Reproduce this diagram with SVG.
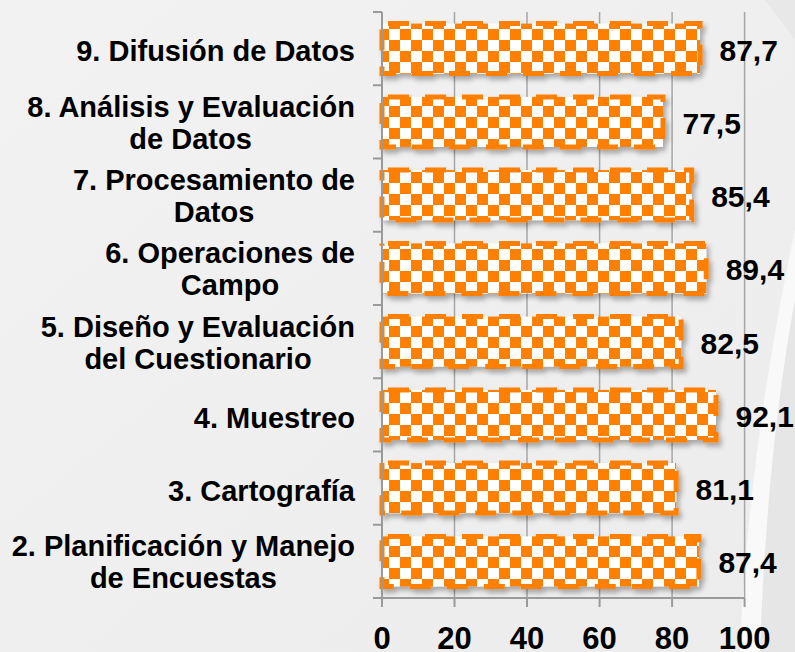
<svg xmlns="http://www.w3.org/2000/svg" width="795" height="652" viewBox="0 0 795 652">
<defs>
<pattern id="chk" patternUnits="userSpaceOnUse" x="4" y="7" width="22" height="22">
<rect width="22" height="22" fill="#ffffff"/>
<rect x="0" y="0" width="11" height="11" fill="#ff8000"/>
<rect x="11" y="11" width="11" height="11" fill="#ff8000"/>
</pattern>
<filter id="sh" x="-5%" y="-30%" width="115%" height="170%">
<feDropShadow dx="3" dy="4" stdDeviation="2.5" flood-color="#000" flood-opacity="0.3"/>
</filter>
<linearGradient id="bg" x1="0" y1="0" x2="1" y2="1">
<stop offset="0" stop-color="#f2f2f2"/>
<stop offset="1" stop-color="#ececec"/>
</linearGradient>
</defs>
<style>
.lbl{font-family:"Liberation Sans",Arial,sans-serif;font-weight:bold;font-size:29px;fill:#000}
.val{font-family:"Liberation Sans",Arial,sans-serif;font-weight:bold;font-size:30px;fill:#000}
.ax{font-family:"Liberation Sans",Arial,sans-serif;font-weight:bold;font-size:31px;fill:#000;text-anchor:middle}
.grid{stroke:#a6a6a6;stroke-width:1.5}
.axis{stroke:#9a9a9a;stroke-width:2;fill:none}
.bar{fill:url(#chk);stroke:#ff8000;stroke-width:5;stroke-dasharray:21 16;stroke-dashoffset:-6}
</style>
<rect width="795" height="652" fill="url(#bg)"/>
<path d="M795,250 C770,380 755,520 752,652 L795,652 Z" fill="#e6e6e6"/>
<path d="M795,230 C765,370 745,520 740,652 L760,652 C764,520 778,390 795,300 Z" fill="#f9f9f9"/>
<path d="M765,0 L795,0 L795,40 Z" fill="#e8e8e8"/>

<g id="grid">
<line class="grid" x1="454.5" y1="12" x2="454.5" y2="598"/>
<line class="grid" x1="527" y1="12" x2="527" y2="598"/>
<line class="grid" x1="599.6" y1="12" x2="599.6" y2="598"/>
<line class="grid" x1="672.1" y1="12" x2="672.1" y2="598"/>
<line class="grid" x1="744.6" y1="12" x2="744.6" y2="598"/>
</g>

<g id="bar-9" filter="url(#sh)"><rect class="bar" x="382" y="23.6" width="318" height="50"/></g>
<g id="bar-8" filter="url(#sh)"><rect class="bar" x="382" y="96.9" width="281" height="50"/></g>
<g id="bar-7" filter="url(#sh)"><rect class="bar" x="382" y="170.1" width="309.7" height="50"/></g>
<g id="bar-6" filter="url(#sh)"><rect class="bar" x="382" y="243.4" width="324.2" height="50"/></g>
<g id="bar-5" filter="url(#sh)"><rect class="bar" x="382" y="316.6" width="299.1" height="50"/></g>
<g id="bar-4" filter="url(#sh)"><rect class="bar" x="382" y="389.9" width="334" height="50"/></g>
<g id="bar-3" filter="url(#sh)"><rect class="bar" x="382" y="463.1" width="294.1" height="50"/></g>
<g id="bar-2" filter="url(#sh)"><rect class="bar" x="382" y="536.4" width="316.9" height="50"/></g>

<g id="axes">
<line class="axis" x1="382" y1="12" x2="382" y2="607"/>
<line class="axis" x1="374" y1="598" x2="744.6" y2="598"/>
<path class="axis" d="M373,12H382M373,85.25H382M373,158.5H382M373,231.75H382M373,305H382M373,378.25H382M373,451.5H382M373,524.75H382M373,598H382"/>
<path class="axis" d="M454.5,598V607M527,598V607M599.6,598V607M672.1,598V607M744.6,598V607"/>
</g>

<g id="labels">
<text class="lbl" x="355" y="60.5" text-anchor="end">9. Difusión de Datos</text>
<text class="lbl" x="355" y="117" text-anchor="end">8. Análisis y Evaluación</text>
<text class="lbl" x="190.6" y="149" text-anchor="middle">de Datos</text>
<text class="lbl" x="355" y="190" text-anchor="end">7. Procesamiento de</text>
<text class="lbl" x="214" y="222" text-anchor="middle">Datos</text>
<text class="lbl" x="355" y="263.4" text-anchor="end">6. Operaciones de</text>
<text class="lbl" x="230" y="295.4" text-anchor="middle">Campo</text>
<text class="lbl" x="355" y="336.6" text-anchor="end">5. Diseño y Evaluación</text>
<text class="lbl" x="198" y="368.6" text-anchor="middle">del Cuestionario</text>
<text class="lbl" x="355" y="428" text-anchor="end">4. Muestreo</text>
<text class="lbl" x="355" y="501" text-anchor="end">3. Cartografía</text>
<text class="lbl" x="355" y="556.4" text-anchor="end">2. Planificación y Manejo</text>
<text class="lbl" x="183.4" y="588.4" text-anchor="middle">de Encuestas</text>
</g>

<g id="values">
<text class="val" x="719.5" y="60.5">87,7</text>
<text class="val" x="682.5" y="133.9">77,5</text>
<text class="val" x="711.2" y="207.1">85,4</text>
<text class="val" x="725.7" y="280.4">89,4</text>
<text class="val" x="700.6" y="353.6">82,5</text>
<text class="val" x="735.5" y="426.9">92,1</text>
<text class="val" x="695.6" y="500.1">81,1</text>
<text class="val" x="718.4" y="573.4">87,4</text>
</g>

<g id="xticks">
<text class="ax" x="382" y="649">0</text>
<text class="ax" x="454.5" y="649">20</text>
<text class="ax" x="527" y="649">40</text>
<text class="ax" x="599.6" y="649">60</text>
<text class="ax" x="672.1" y="649">80</text>
<text class="ax" x="744.6" y="649">100</text>
</g>
</svg>
